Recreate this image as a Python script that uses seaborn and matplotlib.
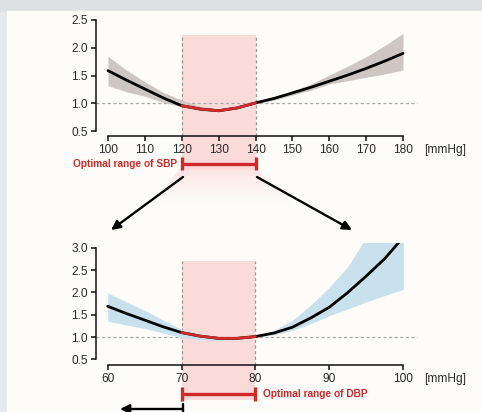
import numpy as np
import pandas as pd
import matplotlib
matplotlib.use("Agg")
import matplotlib.pyplot as plt
import seaborn as sns
from matplotlib.patches import Rectangle, Polygon

# --- data ---------------------------------------------------------------
sbp_x = [100, 105, 110, 115, 120, 125, 130, 135, 140, 145, 150, 155, 160, 165, 170, 175, 180]
sbp_hr = [1.59, 1.42, 1.26, 1.10, 0.96, 0.90, 0.87, 0.92, 1.01, 1.09, 1.19, 1.29, 1.40, 1.51, 1.63, 1.76, 1.90]
sbp_lo = [1.32, 1.21, 1.13, 1.02, 0.94, 0.87, 0.85, 0.90, 1.00, 1.06, 1.15, 1.24, 1.35, 1.41, 1.47, 1.53, 1.60]
sbp_hi = [1.85, 1.60, 1.39, 1.20, 1.06, 0.95, 0.90, 0.94, 1.02, 1.12, 1.22, 1.35, 1.51, 1.67, 1.84, 2.04, 2.26]

dbp_x = [60, 62.5, 65, 67.5, 70, 72.5, 75, 77.5, 80, 82.5, 85, 87.5, 90, 92.5, 95, 97.5, 100]
dbp_hr = [1.69, 1.53, 1.38, 1.23, 1.10, 1.02, 0.97, 0.97, 1.01, 1.09, 1.22, 1.43, 1.67, 2.00, 2.37, 2.76, 3.24]
dbp_lo = [1.36, 1.27, 1.19, 1.09, 0.99, 0.94, 0.92, 0.94, 1.00, 1.05, 1.15, 1.30, 1.48, 1.63, 1.79, 1.93, 2.07]
dbp_hi = [1.99, 1.79, 1.60, 1.38, 1.17, 1.07, 1.00, 0.99, 1.02, 1.15, 1.38, 1.72, 2.12, 2.58, 3.25, 3.90, 4.50]

sbp_opt = [120, 140]
dbp_opt = [70, 80]
sbp_xticks = [100, 110, 120, 130, 140, 150, 160, 170, 180]
dbp_xticks = [60, 70, 80, 90, 100]
sbp_yticks = [0.5, 1.0, 1.5, 2.0, 2.5]
dbp_yticks = [0.5, 1.0, 1.5, 2.0, 2.5, 3.0]

sbp = pd.DataFrame({"bp": sbp_x, "hr": sbp_hr, "lo": sbp_lo, "hi": sbp_hi})
dbp = pd.DataFrame({"bp": dbp_x, "hr": dbp_hr, "lo": dbp_lo, "hi": dbp_hi})

# --- style ---------------------------------------------------------------
sns.set_theme(style="ticks")
plt.rcParams["font.family"] = ["Liberation Sans", "DejaVu Sans"]

RED = "#d12a2a"
PINK = "#fbdada"
PANEL = "#fdfcf8"
W, H = 482, 412

fig = plt.figure(figsize=(W / 100, H / 100), dpi=100)

# background "slide" layer in pixel coordinates
bg = fig.add_axes([0, 0, 1, 1], zorder=-1)
bg.set_xlim(0, W)
bg.set_ylim(H, 0)
bg.axis("off")
bg.add_patch(Rectangle((0, 0), W, H, color="#e4e9ee"))
bg.add_patch(Rectangle((0, 0), W, 11, color="#dde1e4"))
bg.add_patch(Rectangle((7, 11), W, H, color=PANEL))

# faint pink fade between the two panels
grad = np.zeros((60, 2, 4))
grad[..., :3] = matplotlib.colors.to_rgb(PINK)
grad[..., 3] = (0.75 * np.linspace(1, 0, 60) ** 1.8)[:, None]
im = bg.imshow(grad, extent=(130, 320, 212, 168), origin="upper", aspect="auto", zorder=1)
clip = Polygon([(181, 168), (256, 168), (298, 212), (142, 212)], closed=True,
               transform=bg.transData, facecolor="none", edgecolor="none")
bg.add_patch(clip)
im.set_clip_path(clip)
bg.set_xlim(0, W)
bg.set_ylim(H, 0)

# connecting arrows
arrow = dict(arrowstyle="-|>,head_length=0.45,head_width=0.22", color="black", lw=1.7,
             shrinkA=0, shrinkB=0)
bg.annotate("", xy=(111, 230), xytext=(183, 177), arrowprops=arrow)
bg.annotate("", xy=(352, 230), xytext=(257, 177), arrowprops=arrow)
bg.annotate("", xy=(120, 409), xytext=(183, 409), arrowprops=arrow)
bg.plot([183, 183], [404, 412], color="black", lw=1.7)


def panel(ax, df, opt, band_color, xticks, yticks, xlim, ylim, pink_top, pink_bottom,
          bar_y, label, label_x, label_ha, dash_right):
    ax.set_facecolor("none")
    ax.set_xlim(*xlim)
    ax.set_ylim(*ylim)

    # optimal range shading, running below the axis
    ax.add_patch(Rectangle((opt[0], pink_bottom), opt[1] - opt[0], pink_top - pink_bottom,
                           facecolor=PINK, edgecolor="none", clip_on=False, zorder=0))
    ax.vlines(opt, ylim[0], pink_top, colors="#9a9a9a", linestyles=(0, (2.5, 2)), lw=0.9, zorder=1)
    ax.hlines(1.0, xlim[0], dash_right, colors="#aaaaaa", linestyles=(0, (2.5, 2)), lw=0.9,
              zorder=1, clip_on=False)

    ax.fill_between(df["bp"], df["lo"], df["hi"], color=band_color, lw=0, zorder=2)
    sns.lineplot(data=df, x="bp", y="hr", color="black", lw=2.0, ax=ax, zorder=3)
    inside = df[(df["bp"] >= opt[0]) & (df["bp"] <= opt[1])]
    sns.lineplot(data=inside, x="bp", y="hr", color=RED, lw=2.0, ax=ax, zorder=4)

    # optimal range bar
    ax.plot(opt, [bar_y, bar_y], color=RED, lw=2.4, clip_on=False, solid_capstyle="butt")
    cap = (ylim[1] - ylim[0]) * 0.055
    for xv in opt:
        ax.plot([xv, xv], [bar_y - cap, bar_y + cap], color=RED, lw=2.4, clip_on=False,
                solid_capstyle="butt")
    ax.text(label_x, bar_y, label, color=RED, fontsize=7.3, fontweight="bold",
            ha=label_ha, va="center")

    ax.set_xticks(xticks)
    ax.set_yticks(yticks)
    ax.set_yticklabels([f"{v:.1f}" for v in yticks])
    ax.spines["left"].set_bounds(yticks[0], yticks[-1])
    ax.spines["bottom"].set_bounds(xticks[0], xticks[-1])
    for s in ("left", "bottom"):
        ax.spines[s].set_linewidth(1.1)
        ax.spines[s].set_color("#111111")
    sns.despine(ax=ax)
    ax.tick_params(axis="both", length=3.8, width=1.1, labelsize=8.6, colors="#111111",
                   labelcolor="#2a2a2a", pad=2.0)
    ax.set_xlabel("")
    ax.set_ylabel("")
    ax.text(1.012, -0.065, "[mmHg]", transform=ax.transAxes, fontsize=8.6, color="#2a2a2a",
            ha="left", va="top")


# top panel: systolic BP (pixel layout: axes x 96..420, y 14..136)
ax1 = fig.add_axes([96 / W, (H - 136) / H, 324 / W, 121.6 / H])
panel(ax1, sbp, sbp_opt, "#cdc6c3", sbp_xticks, sbp_yticks,
      xlim=(96.75, 184.6), ylim=(0.416, 2.6), pink_top=2.23, pink_bottom=-0.195,
      bar_y=-0.078, label="Optimal range of SBP", label_x=118.6, label_ha="right",
      dash_right=183.8)

# bottom panel: diastolic BP (pixel layout: axes x 96..420, y 243..365)
ax2 = fig.add_axes([96 / W, (H - 365) / H, 324 / W, 122 / H])
panel(ax2, dbp, dbp_opt, "#c9e1ec", dbp_xticks, dbp_yticks,
      xlim=(58.42, 102.26), ylim=(0.372, 3.11), pink_top=2.71, pink_bottom=-0.42,
      bar_y=-0.281, label="Optimal range of DBP", label_x=81.0, label_ha="left",
      dash_right=101.8)

fig.savefig("out.png", dpi=100)
